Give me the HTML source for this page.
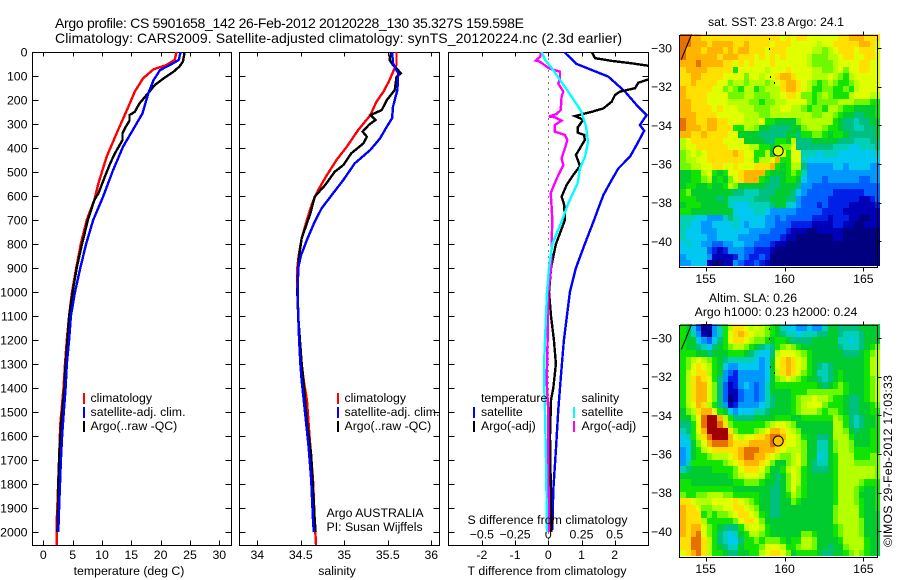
<!DOCTYPE html>
<html lang="en">
<head>
<meta charset="utf-8">
<title>Argo profile</title>
<style>
html,body{margin:0;padding:0;background:#fff;}
svg{display:block;}
text{font-family:"Liberation Sans",Arial,sans-serif;fill:#000;font-size:12.3px;}
.title{font-size:14px;}
</style>
</head>
<body>
<svg id="chart" xmlns="http://www.w3.org/2000/svg" width="900" height="580" viewBox="0 0 900 580">
<defs>
<clipPath id="clip-temp"><rect x="32" y="52" width="199" height="493"/></clipPath>
<clipPath id="clip-sal"><rect x="239" y="52" width="200" height="493"/></clipPath>
<clipPath id="clip-diff"><rect x="448" y="52" width="200" height="493"/></clipPath>
</defs>
<rect x="0" y="0" width="900" height="580" fill="#fff"/>
<text class="title" x="55" y="28" textLength="469" lengthAdjust="spacing">Argo profile: CS 5901658_142 26-Feb-2012 20120228_130 35.327S 159.598E</text>
<text class="title" x="55" y="43" textLength="567" lengthAdjust="spacing">Climatology: CARS2009. Satellite-adjusted climatology: synTS_20120224.nc (2.3d earlier)</text>
<g id="maps"></g>
<g id="panels"></g>
<g>
<rect x="83" y="393" width="2" height="11" fill="#ff0000"/>
<text x="90.5" y="402">climatology</text>
<rect x="83" y="407" width="2" height="11" fill="#0000ff"/>
<text x="90.5" y="416" textLength="95" lengthAdjust="spacing">satellite-adj. clim.</text>
<rect x="83" y="421" width="2" height="11" fill="#000"/>
<text x="90.5" y="430">Argo(..raw -QC)</text>
</g>
<g>
<rect x="337" y="393" width="2" height="11" fill="#ff0000"/>
<text x="344.5" y="402">climatology</text>
<rect x="337" y="407" width="2" height="11" fill="#0000ff"/>
<text x="344.5" y="416" textLength="95" lengthAdjust="spacing">satellite-adj. clim.</text>
<rect x="337" y="421" width="2" height="11" fill="#000"/>
<text x="344.5" y="430">Argo(..raw -QC)</text>
<text x="326.5" y="517">Argo AUSTRALIA</text>
<text x="326.5" y="531">PI: Susan Wijffels</text>
</g>
<g>
<text x="481" y="402">temperature</text>
<rect x="473" y="407" width="2" height="11" fill="#0000ff"/>
<text x="481" y="416">satellite</text>
<rect x="473" y="421" width="2" height="11" fill="#000"/>
<text x="481" y="430">Argo(-adj)</text>
<text x="581.5" y="402">salinity</text>
<rect x="573" y="407" width="2" height="11" fill="#00ffff"/>
<text x="581.5" y="416">satellite</text>
<rect x="573" y="421" width="2" height="11" fill="#ff00ff"/>
<text x="581.5" y="430">Argo(-adj)</text>
</g>
<text x="467.5" y="524" textLength="160" lengthAdjust="spacing">S difference from climatology</text>
<text x="467.5" y="575" textLength="159" lengthAdjust="spacing">T difference from climatology</text>
<text x="129" y="575" text-anchor="middle">temperature (deg C)</text>
<text x="337" y="575" text-anchor="middle">salinity</text>
<text x="776" y="26" text-anchor="middle">sat. SST: 23.8 Argo: 24.1</text>
<text x="753" y="302" text-anchor="middle">Altim. SLA: 0.26</text>
<text x="776" y="316" text-anchor="middle">Argo h1000: 0.23 h2000: 0.24</text>
<text transform="translate(892,547) rotate(-90)" textLength="172" lengthAdjust="spacing">©IMOS 29-Feb-2012 17:03:33</text>
</svg>
<script>
// ---- temperature panel data (deg C vs depth, dbar)
const tempClimDepth = [0,33,54,72,110,165,228,339,436,547,617,700,800,900,1000,1100,1200,1300,1400,1550,1750,1950,2054];
const tempClim = [22.7,22.4,21.0,18.8,17.0,15.6,14.5,12.5,10.8,9.4,8.7,7.4,6.4,5.6,4.9,4.4,4.0,3.7,3.45,2.9,2.6,2.3,2.3];
const tempSatDepth = [0,33,54,75,117,172,256,311,394,492,603,700,800,900,1000,1100,1200,1300,1400,1500,1600,1700,1800,1900,2000];
const tempSat = [23.4,23.1,21.6,19.9,18.8,17.9,16.9,15.6,13.6,11.9,10.2,8.5,7.3,6.3,5.4,4.7,4.4,4.0,3.8,3.5,3.2,3.0,2.85,2.7,2.55];
const tempArgoDepth = [0,40,61,82,110,138,179,214,249,263,286,318,339,367,422,464,519,589,617,700,800,900,1000,1100,1200,1300,1400,1500,1600,1700,1800,1900,2000];
const tempArgo = [24.1,23.8,23.2,22.2,20.5,19,17.6,16.4,15.6,14.7,14.7,13.9,13.5,13.5,12.2,11.4,10.5,9.4,8.7,7.6,6.6,5.7,5.0,4.4,4.1,3.8,3.6,3.2,2.9,2.7,2.55,2.5,2.4];
const tempTicks = [0,5,10,15,20,25,30];
const depthTicks = [0,100,200,300,400,500,600,700,800,900,1000,1100,1200,1300,1400,1500,1600,1700,1800,1900,2000];

// ---- salinity panel data
const salClimDepth = [0,54,75,124,165,207,263,325,394,450,513,575,631,700,776,850,900,1000,1100,1200,1300,1370,1450,1600,1783,1950,2054];
const salClim = [35.60,35.60,35.57,35.51,35.45,35.37,35.30,35.16,35.03,34.91,34.80,34.70,34.63,34.57,34.51,34.475,34.46,34.46,34.47,34.49,34.51,34.535,34.57,34.60,34.64,34.66,34.675];
const salSatDepth = [0,47,89,158,228,276,311,360,408,464,533,589,651,707,783,850,900,1000,1100,1200,1300,1370,1505,1645,1783,1950,2000];
const salSat = [35.55,35.56,35.62,35.61,35.56,35.55,35.49,35.41,35.30,35.12,34.99,34.87,34.74,34.66,34.57,34.50,34.47,34.465,34.47,34.48,34.495,34.51,34.55,34.59,34.62,34.64,34.65];
const salArgoDepth = [0,33,54,68,89,103,158,200,242,263,283,304,332,353,381,422,471,499,554,603,672,776,850,900,1000,1100,1200,1300,1370,1540,1680,1820,1950,2000];
const salArgo = [35.54,35.52,35.56,35.60,35.65,35.60,35.58,35.49,35.43,35.30,35.36,35.28,35.21,35.26,35.22,35.08,34.99,34.89,34.78,34.66,34.61,34.51,34.48,34.47,34.46,34.47,34.49,34.51,34.53,34.57,34.62,34.64,34.66,34.67];
const salTicks = [34,34.5,35,35.5,36];

// ---- difference panel data
const dTSatDepth = [0,50,75,103,165,221,263,304,328,387,436,485,533,596,651,700,800,900,1000,1100,1200,1300,1367,1490,1658,1825,1992];
const dTSat = [0.48,0.855,1.31,1.81,2.31,2.66,2.96,2.76,2.89,2.66,2.46,2.11,1.91,1.66,1.51,1.38,1.1,0.83,0.65,0.56,0.47,0.41,0.37,0.30,0.23,0.15,0.12];
const dTArgoDepth = [0,26,37,47,57,85,114,128,151,165,179,207,235,249,267,276,283,314,336,346,367,401,429,475,513,554,603,637,700,800,900,1000,1100,1200,1300,1400,1450,1600,1880,2000];
const dTArgo = [1.31,1.41,1.91,2.51,3.01,3.6,3.01,2.71,2.61,2.16,2.01,1.91,1.66,1.31,0.80,0.955,1.05,0.885,0.885,1.08,1.1,0.955,0.83,0.955,0.75,0.55,0.40,0.48,0.50,0.23,0.08,0.02,0.08,0.17,0.23,0.15,0.08,0.05,0.08,0.09];
const dSArgoDepth = [0,19,36,40,68,82,110,131,165,186,242,258,269,272,286,304,332,346,367,401,443,471,513,561,589,644,700,800,900,1000,1200,1370,1500,1700,2000];
const dSArgo = [-0.055,-0.06,-0.095,-0.065,0.005,0.088,0.088,0.075,0.113,0.10,0.093,0.063,0.005,0.05,0.10,0.05,0.05,0.126,0.143,0.126,0.10,0.113,0.075,0.038,0.018,0.025,0.03,0.025,0.02,0.0,-0.005,-0.012,0,0,0.005];
const dSSatDepth = [0,33,75,117,165,207,249,311,374,436,485,547,631,700,800,900,1000,1100,1200,1300,1370,1500,1700,1900,2000];
const dSSat = [-0.05,-0.025,0.038,0.088,0.15,0.20,0.25,0.284,0.30,0.276,0.239,0.221,0.15,0.105,0.03,0.005,-0.01,-0.017,-0.025,-0.032,-0.032,-0.025,-0.017,-0.012,-0.01];
const dTTicks = [-2,-1,0,1,2];
const dSTicks = [-0.5,-0.25,0,0.25,0.5];
const dSTickLabels = ['−0.5','−0.25','0','0.25','0.5'];

// ---- map data: colour level per grid cell (north to south, west to east)
const lonTicks = [155,160,165];
const latTicks = [-30,-32,-34,-36,-38,-40];
const argoLon = 159.598;
const argoLat = -35.327;
const coastLon = [154.1,153.45];
const coastLat = [-29.3,-30.6];
const islandLon = [159.0,159.0,159.05,159.35];
const islandLat = [-29.5,-30.0,-31.45,-31.75];
const sstLevels = [
[15,15,14,14,13,13,13,13,13,13,13,13,13,13,13,13,13,13,13,12,13,12,13,13,12,12,12,12,12,12,13,13,14,14,14,13,13,13],
[15,15,14,14,14,13,14,14,14,14,13,13,14,13,13,13,13,12,13,13,13,12,12,12,12,12,11,12,12,13,13,13,13,13,14,14,13,12],
[15,14,14,14,13,14,14,14,13,14,13,14,14,13,13,13,12,13,13,13,12,12,12,12,12,11,11,10,11,12,13,13,13,12,13,13,13,12],
[15,14,14,14,14,14,14,13,14,14,14,13,13,13,12,13,12,13,12,13,12,12,12,12,11,10,10,10,11,11,12,13,13,12,12,13,13,12],
[14,14,14,15,14,14,14,14,13,13,12,13,12,13,12,12,12,13,12,12,12,12,12,12,11,10,10,10,10,11,12,12,12,12,13,13,12,12],
[13,14,14,14,14,13,13,13,13,13,9,12,12,12,12,12,11,12,12,12,13,12,12,12,12,11,11,10,10,11,12,10,12,12,13,13,12,12],
[13,13,14,14,13,13,13,13,12,12,12,12,10,12,12,11,12,12,13,14,14,13,12,12,12,11,11,11,12,11,10,9,11,12,12,12,12,12],
[13,13,14,13,13,13,13,12,12,10,11,11,10,11,11,11,10,11,12,13,14,14,13,12,11,10,9,10,11,10,9,9,10,11,12,12,12,12],
[14,13,13,13,13,13,12,12,10,11,10,9,11,11,9,10,11,11,11,13,14,14,13,12,11,9,9,10,10,9,9,10,9,11,12,12,12,12],
[14,13,13,13,13,12,12,12,12,10,10,10,11,11,10,10,10,11,11,12,13,13,12,10,10,9,10,11,10,9,9,9,11,12,12,12,11,11],
[14,14,13,13,13,12,12,12,12,11,11,11,11,10,10,9,10,10,11,11,12,12,12,12,10,9,10,10,10,10,11,11,11,10,10,10,9,9],
[14,14,13,13,13,13,12,13,12,12,12,11,11,11,10,10,10,11,11,12,12,11,11,10,9,10,10,9,11,11,10,9,9,8,8,8,8,9],
[14,14,14,13,13,13,13,12,12,12,12,12,11,11,11,10,10,11,11,11,11,11,11,11,11,10,10,11,11,10,9,8,8,7,7,8,8,9],
[15,14,14,13,13,14,14,13,13,12,12,12,11,11,11,12,9,9,8,8,8,8,10,11,11,11,11,11,11,9,8,7,7,6,7,7,8,8],
[15,14,14,14,13,14,14,13,13,13,9,9,11,11,10,8,8,7,7,7,7,8,8,10,11,11,11,10,9,9,8,7,7,6,6,7,7,8],
[14,14,13,13,14,13,13,13,13,12,12,8,8,8,8,7,7,7,7,7,8,8,7,9,9,10,10,9,8,9,9,8,7,7,7,7,7,8],
[11,12,13,13,13,13,13,13,12,12,12,12,8,8,8,8,7,7,9,9,8,11,7,7,7,8,8,8,8,8,7,7,7,6,6,6,7,7],
[11,12,12,13,13,13,13,13,13,12,12,12,12,11,11,9,9,8,9,10,10,12,7,7,7,7,7,7,7,6,6,6,5,5,6,6,6,7],
[10,11,12,11,12,13,13,13,13,13,14,13,12,12,9,9,11,8,12,12,9,12,12,6,6,6,5,6,6,6,5,5,5,5,5,5,5,6],
[10,11,11,12,12,13,13,13,13,13,13,13,12,12,9,11,11,12,14,9,9,12,12,6,5,5,5,5,5,5,5,5,5,5,5,5,5,5],
[10,10,11,11,12,12,13,13,12,12,13,12,12,12,13,13,13,14,9,8,9,11,11,7,4,4,4,4,4,5,5,4,5,5,5,5,4,4],
[8,8,9,9,11,12,9,8,9,12,12,13,14,14,14,14,9,8,8,8,9,10,9,6,4,4,4,4,4,4,4,4,4,4,4,4,4,4],
[8,8,9,9,10,11,8,9,8,10,12,13,14,14,14,9,8,7,7,8,9,9,8,5,4,4,4,3,4,4,4,4,4,4,3,3,4,4],
[8,9,9,8,8,9,8,8,9,11,10,8,8,8,8,8,7,7,7,8,8,8,7,4,4,3,3,3,3,3,3,3,3,3,3,3,3,3],
[9,10,8,8,8,8,8,8,8,8,7,7,6,6,6,7,7,7,8,8,8,7,5,4,3,3,3,3,3,2,2,2,2,2,2,3,3,3],
[9,9,9,8,8,8,8,7,8,6,6,6,6,6,7,7,7,8,8,8,7,7,4,3,3,3,3,3,2,2,2,2,2,2,1,1,2,3],
[8,9,9,9,8,8,8,8,8,6,5,5,5,6,6,6,6,7,8,8,6,5,4,3,3,3,2,3,2,2,2,2,1,1,1,1,1,2],
[9,9,8,8,8,8,8,8,8,8,5,5,5,5,6,6,5,4,4,4,4,4,3,3,3,3,3,2,2,2,2,1,1,1,1,1,1,1],
[6,6,6,5,5,4,4,4,6,7,6,5,5,5,5,5,4,4,3,4,3,3,3,3,3,2,2,2,1,2,2,2,1,1,0,0,1,1],
[6,6,5,5,4,4,5,5,5,5,6,5,4,5,5,5,4,4,3,3,3,2,2,2,2,1,1,1,1,2,2,1,1,0,0,1,1,1],
[6,5,5,5,4,4,4,5,5,5,5,5,5,4,4,4,4,3,3,3,2,1,1,1,0,0,1,1,1,1,1,0,0,0,0,0,0,0],
[6,5,5,5,5,4,4,5,5,5,5,4,4,4,4,3,3,3,3,2,1,1,0,0,0,0,0,0,0,1,1,0,0,0,0,0,0,0],
[5,6,5,5,4,4,3,3,4,4,5,5,4,4,3,3,3,2,1,1,0,0,0,0,0,0,0,0,0,0,0,0,0,0,0,0,0,0],
[5,5,5,5,5,3,2,1,2,4,4,4,3,3,2,2,2,1,0,0,0,0,0,0,0,0,0,0,0,0,0,0,0,0,0,0,0,0],
[4,5,5,5,5,4,1,1,1,1,2,4,3,2,2,3,2,0,0,0,0,0,0,0,0,0,0,0,0,0,0,0,0,0,0,0,0,0],
[4,4,5,5,5,1,0,0,1,1,4,3,2,2,3,2,1,0,0,0,0,0,0,0,0,0,0,0,0,0,0,0,0,0,0,0,0,0]
];
const slaLevels = [
[9,8,5,3,0,1,4,6,9,11,13,13,12,11,12,11,10,9,8,6,5,5,4,4,5,4,4,6,8,8,7,7,7,7,8,8,8,8],
[9,8,6,4,1,0,4,6,9,12,13,14,13,12,11,11,10,9,8,7,6,6,5,6,6,6,7,7,8,8,7,6,6,6,7,8,8,8],
[9,8,8,5,4,3,5,7,9,12,13,13,12,11,10,10,9,8,9,9,8,7,7,7,7,8,8,8,8,8,6,6,5,6,7,8,8,8],
[9,8,8,7,6,5,7,8,9,10,11,11,10,9,8,7,6,7,9,10,11,10,9,8,8,8,8,8,8,8,7,6,6,6,7,8,9,10],
[9,9,9,8,8,7,8,8,8,9,9,9,8,7,6,5,5,7,11,12,12,12,11,10,9,8,8,8,8,8,8,7,7,7,8,9,10,11],
[9,10,11,12,11,10,9,8,7,6,6,6,6,6,5,4,5,8,12,13,14,13,12,11,9,8,8,8,8,8,8,8,8,8,8,9,11,11],
[9,10,12,13,12,11,9,8,5,4,4,5,5,5,5,4,5,8,12,13,14,13,12,11,9,8,7,6,7,8,8,8,8,8,8,9,11,11],
[9,11,12,13,13,11,9,8,4,3,2,4,4,4,4,4,5,8,11,13,14,13,12,10,9,8,6,6,7,8,9,8,8,8,8,9,11,11],
[9,11,13,14,13,12,9,7,4,2,2,4,4,4,4,4,5,8,10,11,12,11,10,9,8,8,7,6,7,8,9,8,8,8,8,9,10,11],
[9,11,13,14,14,12,10,7,3,1,2,4,5,4,3,4,6,8,9,9,9,9,9,9,9,9,8,7,8,9,10,9,8,8,8,9,10,11],
[9,11,13,14,14,12,10,7,3,1,1,3,4,4,3,4,6,8,8,8,8,9,9,9,10,10,10,10,10,10,10,9,8,8,8,9,10,11],
[9,11,13,14,14,12,10,7,3,0,1,3,4,4,3,4,6,7,8,8,8,9,10,11,11,12,11,11,10,9,9,8,7,7,8,9,10,11],
[9,11,12,14,13,11,9,7,4,1,2,4,4,4,4,5,6,7,8,8,8,9,10,11,12,12,12,10,9,9,9,8,7,7,8,8,9,10],
[8,10,11,13,14,14,12,9,8,5,4,5,5,5,6,6,7,8,8,8,8,9,10,11,11,11,10,9,10,10,9,8,7,7,8,8,9,9],
[8,8,10,12,15,16,16,14,11,9,7,7,7,7,8,8,8,8,9,9,9,8,8,9,9,9,9,9,9,11,10,9,7,6,7,8,8,9],
[7,7,9,12,15,16,16,15,13,10,9,9,9,9,9,9,10,11,12,12,11,10,8,8,8,8,8,8,8,11,11,9,7,6,7,8,8,9],
[6,7,9,12,14,16,16,16,16,13,10,9,9,9,10,11,12,14,14,13,12,11,10,8,8,8,8,8,8,11,11,10,8,7,8,8,9,9],
[5,6,9,11,13,15,16,16,16,14,12,11,12,12,13,13,14,15,15,14,12,12,11,9,8,8,7,7,8,11,11,11,9,8,8,8,9,9],
[5,5,8,10,12,14,15,15,15,14,13,13,13,14,14,14,14,15,14,13,12,12,11,10,8,8,6,6,8,10,11,11,10,8,8,8,9,9],
[4,5,8,9,11,12,13,13,13,13,13,14,15,15,15,14,14,14,13,12,11,11,11,10,8,8,6,6,8,10,11,11,10,9,9,9,9,9],
[4,5,8,9,9,10,11,11,11,12,13,14,15,15,14,14,13,12,11,10,10,11,12,10,8,8,5,6,8,9,11,11,11,9,9,9,10,10],
[4,6,9,9,9,9,9,9,10,11,12,13,14,14,14,13,12,10,8,8,10,11,12,10,8,7,6,6,8,9,11,11,11,10,10,10,10,10],
[6,7,8,8,8,8,9,9,9,9,10,12,13,13,13,12,10,8,8,9,11,12,11,9,8,7,7,7,8,9,11,11,11,11,11,11,11,10],
[8,8,8,8,8,8,8,8,8,9,10,11,12,12,12,11,9,8,7,8,10,12,11,9,8,8,8,8,8,9,11,11,11,11,11,11,11,10],
[9,9,8,8,8,8,8,8,8,8,9,9,10,10,10,9,8,8,7,8,10,12,11,9,8,8,8,8,8,9,11,11,11,11,10,9,9,9],
[9,9,9,9,9,9,9,9,9,9,8,8,8,8,8,8,8,7,7,8,10,12,10,9,8,8,8,8,8,9,11,11,11,10,9,8,8,9],
[10,9,9,10,10,11,11,11,10,10,9,9,9,9,9,8,8,7,7,8,9,11,10,9,8,8,8,8,8,9,11,11,11,10,8,8,8,9],
[13,13,12,11,11,11,12,12,12,12,13,12,11,10,9,8,8,7,7,8,8,10,9,8,8,8,8,8,8,9,11,11,11,10,9,8,8,9],
[14,13,13,12,10,10,11,11,12,12,13,13,12,11,10,8,8,7,7,8,8,8,8,8,8,8,8,8,8,10,11,11,11,11,9,8,8,9],
[14,13,13,13,9,10,9,10,10,11,12,13,13,12,11,9,8,7,7,8,8,8,8,8,8,8,8,8,8,10,11,11,11,11,9,8,8,8],
[14,13,13,13,11,9,9,9,9,9,10,12,13,13,12,10,8,8,8,8,8,8,8,8,8,8,8,8,8,10,11,11,11,11,10,8,8,8],
[14,13,14,14,12,10,9,8,7,7,7,9,11,12,12,11,9,8,8,8,8,8,8,8,8,8,8,8,8,9,10,11,11,11,10,8,8,8],
[14,13,14,15,12,10,9,7,6,5,6,8,9,11,11,10,9,8,8,8,8,8,8,10,10,9,8,8,8,9,10,11,11,11,10,8,8,8],
[13,13,15,15,13,11,9,7,6,5,5,7,9,9,10,9,10,10,10,9,8,9,9,11,11,10,8,8,8,8,9,11,11,11,11,9,8,8],
[13,13,15,15,13,11,9,8,7,6,6,8,9,9,9,10,12,12,12,11,9,9,10,11,11,10,8,8,7,8,8,10,11,11,11,9,8,8],
[12,13,14,15,13,11,9,9,8,7,7,8,8,9,9,11,12,13,13,12,10,8,9,9,9,9,8,7,7,8,8,9,10,11,10,9,8,8]
];

// ---- colour scale for the map levels
const levelColors = ['#000080','#0000b8','#0020e8','#0060ff','#0098ff','#00c8f0','#00d0b8','#00c080','#00cc30','#10e400','#70f800','#b4ff00','#e0ff00','#ffe000','#ffb400','#e87000','#a00000'];

const NS = 'http://www.w3.org/2000/svg';
const panelsG = document.getElementById('panels');
const mapsG = document.getElementById('maps');

// axis functions
const yDepth = d => 52 + d * 0.24;
const xTemp = v => 43.3 + v * 5.867;
const xSal = v => 257.3 + (v - 34) * 87;
const xDT = v => 548.3 + v * 33.2;
const xDS = v => 548.3 + v * 132.8;
const xLon = v => 705.7 + (v - 155) * 15.77;
const yLatA = v => 48 + (-30 - v) * 19.33;
const yLatB = v => 338 + (-30 - v) * 19.33;

function svgEl(tag, parent) {
  const el = document.createElementNS(NS, tag);
  parent.appendChild(el);
  return el;
}
function addLine(parent, name, x1, y1, x2, y2) {
  const el = svgEl('line', parent);
  
  
  el.setAttribute('x1', x1); el.setAttribute('y1', y1);
  el.setAttribute('x2', x2); el.setAttribute('y2', y2);
  el.setAttribute('stroke', '#000');
  el.setAttribute('stroke-width', 1);
  el.setAttribute('shape-rendering', 'crispEdges');
  return el;
}
function addText(parent, name, x, y, anchor, str) {
  const el = svgEl('text', parent);
  
  
  el.setAttribute('x', x); el.setAttribute('y', y);
  el.setAttribute('text-anchor', anchor);
  el.textContent = str;
  return el;
}
function addFrame(parent, name, l, t, r, b) {
  const el = svgEl('rect', parent);
  
  
  el.setAttribute('x', l); el.setAttribute('y', t);
  el.setAttribute('width', r - l); el.setAttribute('height', b - t);
  el.setAttribute('fill', 'none');
  el.setAttribute('stroke', '#000');
  el.setAttribute('stroke-width', 1);
  el.setAttribute('shape-rendering', 'crispEdges');
  return el;
}
function addProfile(parent, name, depths, values, xFn, color, clip) {
  const el = svgEl('polyline', parent);
  
  
  el.setAttribute('points', depths.map((d, i) => xFn(values[i]).toFixed(1) + ',' + yDepth(d).toFixed(1)).join(' '));
  el.setAttribute('fill', 'none');
  el.setAttribute('stroke', color);
  el.setAttribute('stroke-width', 2.4);
  el.setAttribute('shape-rendering', 'crispEdges');
  el.setAttribute('clip-path', 'url(#' + clip + ')');
  return el;
}

function drawPanel(name, l, r, xFn, xTicks, xLabels, showDepthLabels) {
  const T = 52.5, B = 545.5;
  const g = svgEl('g', panelsG);
  
  
  xTicks.forEach((v, i) => {
    const x = Math.round(xFn(v)) + 0.5;
    addLine(g, 'x-tick-top', x, T, x, T + 4);
    addLine(g, 'x-tick-bottom', x, B, x, B - 5);
    addText(g, 'x-tick-label', xFn(v), 559, 'middle', xLabels[i]);
  });
  depthTicks.forEach(d => {
    const y = Math.round(yDepth(d)) + 0.5;
    addLine(g, 'depth-tick-left', l, y, l + 6, y);
    addLine(g, 'depth-tick-right', r, y, r - 6, y);
    if (showDepthLabels) {
      addText(g, 'depth-tick-label', 27.5, yDepth(d) + 4.5, 'end', String(d));
    }
  });
  addFrame(g, name + '-frame', l, T, r, B);
  return g;
}

// ---- temperature
const gTemp = drawPanel('temperature-panel', 32.5, 231.5, xTemp, tempTicks, tempTicks.map(String), true);
addProfile(gTemp, 'temperature-climatology-line', tempClimDepth, tempClim, xTemp, '#ff0000', 'clip-temp');
addProfile(gTemp, 'temperature-argo-line', tempArgoDepth, tempArgo, xTemp, '#000000', 'clip-temp');
addProfile(gTemp, 'temperature-satellite-line', tempSatDepth, tempSat, xTemp, '#0000ff', 'clip-temp');

// ---- salinity
const gSal = drawPanel('salinity-panel', 239.5, 439.5, xSal, salTicks, salTicks.map(String), false);
addProfile(gSal, 'salinity-climatology-line', salClimDepth, salClim, xSal, '#ff0000', 'clip-sal');
addProfile(gSal, 'salinity-argo-line', salArgoDepth, salArgo, xSal, '#000000', 'clip-sal');
addProfile(gSal, 'salinity-satellite-line', salSatDepth, salSat, xSal, '#0000ff', 'clip-sal');

// ---- differences
const gDiff = drawPanel('difference-panel', 448.5, 648.5, xDT, dTTicks, dTTicks.map(String), false);
dSTicks.forEach((v, i) => {
  addText(gDiff, 's-difference-tick-label', xDS(v), 538.5, 'middle', dSTickLabels[i]);
});
const zeroLine = addLine(gDiff, 'zero-difference-line', Math.round(xDT(0)) + 0.5, 52.5, Math.round(xDT(0)) + 0.5, 545.5);
zeroLine.setAttribute('stroke-dasharray', '1 5');
addProfile(gDiff, 't-difference-satellite-line', dTSatDepth, dTSat, xDT, '#0000ff', 'clip-diff');
addProfile(gDiff, 't-difference-argo-line', dTArgoDepth, dTArgo, xDT, '#000000', 'clip-diff');
addProfile(gDiff, 's-difference-argo-line', dSArgoDepth, dSArgo, xDS, '#ff00ff', 'clip-diff');
addProfile(gDiff, 's-difference-satellite-line', dSSatDepth, dSSat, xDS, '#00ffff', 'clip-diff');

// ---- maps
function drawMap(name, levels, yLat, top, bottom, lonLabelY, markerColor) {
  const L = 679.5, R = 877.5;
  const g = svgEl('g', mapsG);
  
  
  const lon0 = 153.4, lat0 = -29.3, step = 1 / 3;
  levels.forEach((row, r) => {
    row.forEach((val, c) => {
      const cell = svgEl('rect', g);
      
      
      const x0 = Math.round(xLon(lon0 + c * step));
      const x1 = Math.round(xLon(lon0 + (c + 1) * step));
      const y0 = Math.round(yLat(lat0 - r * step));
      const y1 = Math.round(yLat(lat0 - (r + 1) * step));
      cell.setAttribute('x', x0);
      cell.setAttribute('y', y0);
      cell.setAttribute('width', x1 - x0);
      cell.setAttribute('height', y1 - y0);
      cell.setAttribute('fill', levelColors[val]);
      cell.setAttribute('shape-rendering', 'crispEdges');
    });
  });
  const coast = svgEl('polyline', g);
  
  
  coast.setAttribute('points', coastLon.map((v, i) => xLon(v).toFixed(1) + ',' + yLat(coastLat[i]).toFixed(1)).join(' '));
  coast.setAttribute('fill', 'none');
  coast.setAttribute('stroke', '#000');
  coast.setAttribute('stroke-width', 1);
  islandLon.forEach((v, i) => {
    const dot = svgEl('rect', g);
    
    
    dot.setAttribute('x', Math.round(xLon(v)));
    dot.setAttribute('y', Math.round(yLat(islandLat[i])));
    dot.setAttribute('width', 1);
    dot.setAttribute('height', 2);
    dot.setAttribute('fill', '#000');
  });
  addFrame(g, name + '-frame', L, top, R, bottom);
  lonTicks.forEach(v => {
    const x = Math.round(xLon(v)) + 0.5;
    addLine(g, 'longitude-tick-top', x, top, x, top - 4);
    addLine(g, 'longitude-tick-bottom', x, bottom, x, bottom + 4);
    addText(g, 'longitude-tick-label', xLon(v), lonLabelY, 'middle', String(v));
  });
  latTicks.forEach(v => {
    const y = Math.round(yLat(v)) + 0.5;
    addLine(g, 'latitude-tick-right', R, y, R + 4, y);
    addText(g, 'latitude-tick-label', 672, yLat(v) + 4.5, 'end', '−' + Math.abs(v));
  });
  const marker = svgEl('circle', g);
  
  
  marker.setAttribute('cx', xLon(argoLon));
  marker.setAttribute('cy', yLat(argoLat));
  marker.setAttribute('r', 5);
  marker.setAttribute('fill', markerColor);
  marker.setAttribute('stroke', '#000');
  marker.setAttribute('stroke-width', 1);
}
drawMap('sst-map', sstLevels, yLatA, 35.5, 267.5, 283, '#e0ff00');
drawMap('sla-map', slaLevels, yLatB, 325.5, 557.5, 573, '#ffc000');
</script>
</body>
</html>
